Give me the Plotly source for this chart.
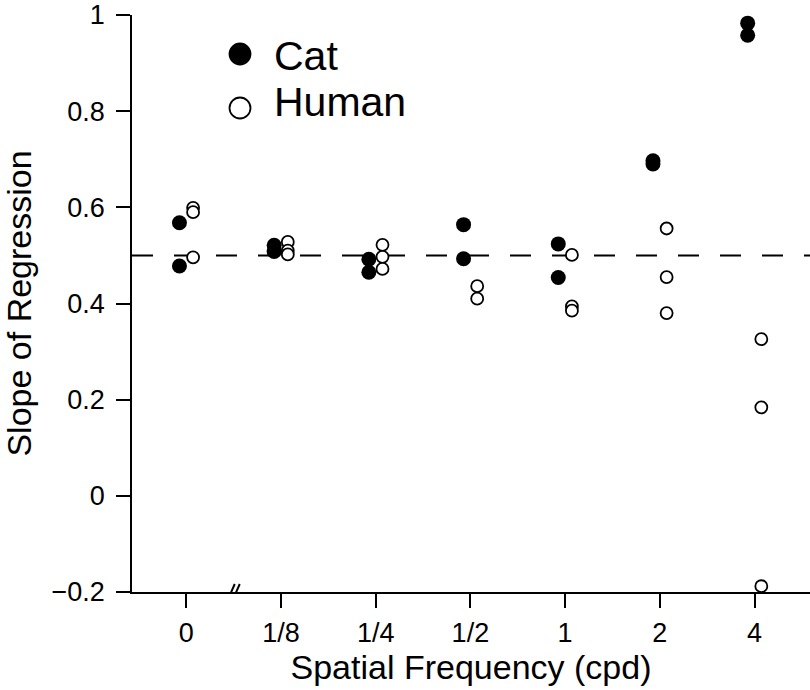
import plotly.graph_objects as go

# ---- data ----
categories = ["0", "1/8", "1/4", "1/2", "1", "2", "4"]
cat_slopes = [
    [0.568, 0.478],
    [0.521, 0.508],
    [0.492, 0.465],
    [0.564, 0.493],
    [0.524, 0.454],
    [0.697, 0.690],
    [0.983, 0.958],
]
human_slopes = [
    [0.599, 0.590, 0.496],
    [0.528, 0.510, 0.502],
    [0.522, 0.497, 0.472],
    [0.436, 0.410],
    [0.501, 0.394, 0.385],
    [0.556, 0.455, 0.380],
    [0.326, 0.184, -0.188],
]
y_tick_vals = [-0.2, 0, 0.2, 0.4, 0.6, 0.8, 1]
y_tick_text = ["\u22120.2", "0", "0.2", "0.4", "0.6", "0.8", "1"]
reference_slope = 0.5

# ---- style ----
FONT = "Liberation Sans, Arial, Helvetica, sans-serif"
CAT_OFFSET = -0.072
HUMAN_OFFSET = 0.072

def flatten(groups, offset):
    xs, ys = [], []
    for i, vals in enumerate(groups):
        for v in vals:
            xs.append(i + offset)
            ys.append(v)
    return xs, ys

cx, cy = flatten(cat_slopes, CAT_OFFSET)
hx, hy = flatten(human_slopes, HUMAN_OFFSET)

fig = go.Figure()
fig.add_trace(go.Scatter(
    x=cx, y=cy, mode="markers", name="Cat",
    marker=dict(size=15, color="black", line=dict(width=0)),
    cliponaxis=False,
))
fig.add_trace(go.Scatter(
    x=hx, y=hy, mode="markers", name="Human",
    marker=dict(size=12, color="white", line=dict(width=1.8, color="black")),
    cliponaxis=False,
))

# dashed reference line at slope 0.5
fig.add_shape(type="line", xref="paper", x0=0, x1=1, yref="y",
              y0=reference_slope, y1=reference_slope,
              line=dict(color="black", width=2, dash="21px,21px"), layer="below")

# axis break mark "//"
for dx in (0, 5):
    fig.add_shape(type="line", xref="x", yref="y",
                  xsizemode="pixel", ysizemode="pixel",
                  xanchor=0.48, yanchor=-0.2,
                  x0=-4 + dx, x1=3 + dx, y0=-8, y1=8,
                  line=dict(color="black", width=2))

# custom legend
legend_items = [("Cat", "black", 0.9324, 0.9298), ("Human", "white", 0.8388, 0.8484)]
for label, fill, ym, yt in legend_items:
    fig.add_shape(type="circle", xref="paper", yref="paper",
                  xsizemode="pixel", ysizemode="pixel",
                  xanchor=0.1593, yanchor=ym,
                  x0=-10.5, x1=10.5, y0=-10.5, y1=10.5,
                  fillcolor=fill, line=dict(color="black", width=1.8))
    fig.add_annotation(x=0.2065, y=yt, xref="paper", yref="paper",
                       text=label, showarrow=False, xanchor="left", yanchor="middle",
                       font=dict(size=41, color="black", family=FONT))

fig.update_layout(
    width=810, height=690,
    margin=dict(l=132, r=0, t=15, b=98),
    paper_bgcolor="white", plot_bgcolor="white",
    showlegend=False,
    font=dict(family=FONT, color="black"),
)
fig.update_xaxes(
    range=[-0.573, 6.586],
    tickvals=list(range(len(categories))), ticktext=categories,
    ticks="outside", ticklen=14, tickwidth=1.8, tickcolor="black",
    showline=True, linecolor="black", linewidth=1.8,
    showgrid=False, zeroline=False,
    tickfont=dict(size=27, family=FONT),
    ticklabelstandoff=2, ticklabeloverflow="allow",
    title=dict(text="Spatial Frequency (cpd)", font=dict(size=34, family=FONT), standoff=0),
    automargin=False,
)
fig.update_yaxes(
    range=[-0.2, 1.0],
    tickvals=y_tick_vals, ticktext=y_tick_text,
    ticks="outside", ticklen=14, tickwidth=1.8, tickcolor="black",
    showline=True, linecolor="black", linewidth=1.8,
    showgrid=False, zeroline=False,
    tickfont=dict(size=27, family=FONT),
    ticklabelstandoff=6, ticklabeloverflow="allow",
    title=dict(text="Slope of Regression", font=dict(size=34, family=FONT), standoff=34),
    automargin=False,
)

fig.write_html(
    "out.html",
    config={"displayModeBar": False},
    post_script="document.body.style.margin='0px';document.body.style.overflow='hidden';",
)
